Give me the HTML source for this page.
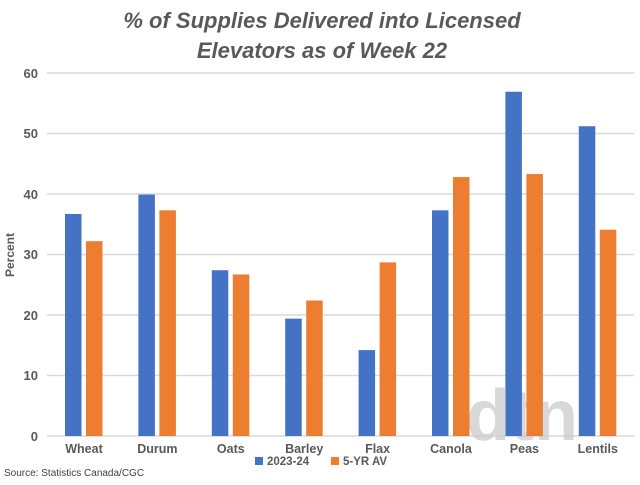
<!DOCTYPE html><html><head><style>body{margin:0;background:#fff}</style></head><body>
<svg width="640" height="480" xmlns="http://www.w3.org/2000/svg" font-family="Liberation Sans, sans-serif">
<rect width="640" height="480" fill="#fff"/>
<text x="322" y="28" text-anchor="middle" font-size="22" font-weight="bold" font-style="italic" fill="#595959">% of Supplies Delivered into Licensed</text>
<text x="322" y="58" text-anchor="middle" font-size="22" font-weight="bold" font-style="italic" fill="#595959">Elevators as of Week 22</text>
<g stroke="#d9d9d9" stroke-width="1.5">
<line x1="47" x2="634" y1="73" y2="73"/><line x1="47" x2="634" y1="133.5" y2="133.5"/><line x1="47" x2="634" y1="194" y2="194"/><line x1="47" x2="634" y1="254.5" y2="254.5"/><line x1="47" x2="634" y1="315" y2="315"/><line x1="47" x2="634" y1="375.5" y2="375.5"/><line x1="47" x2="634" y1="436" y2="436"/>
</g>
<g font-size="13" font-weight="bold" fill="#595959" text-anchor="end">
<text x="38" y="78">60</text><text x="38" y="138">50</text><text x="38" y="199">40</text><text x="38" y="259">30</text><text x="38" y="320">20</text><text x="38" y="380">10</text><text x="38" y="441">0</text>
</g>
<text transform="translate(14,255) rotate(-90)" text-anchor="middle" font-size="12" font-weight="bold" fill="#595959">Percent</text>
<text x="522" y="440" text-anchor="middle" font-size="72" font-weight="bold" fill="#c8c8c8" opacity="0.7">dtn</text>
<g id="bars"></g>
<g font-size="12.5" font-weight="bold" fill="#595959" text-anchor="middle" id="labs"></g>
<rect x="255" y="457" width="8" height="8" fill="#4472c4"/><text x="267" y="465" font-size="11.5" font-weight="bold" fill="#595959">2023-24</text>
<rect x="331" y="457" width="8" height="8" fill="#ed7d31"/><text x="343" y="465" font-size="11.5" font-weight="bold" fill="#595959">5-YR AV</text>
<text x="4" y="476" font-size="10" fill="#404040">Source: Statistics Canada/CGC</text>
</svg>
<script>
var d=[["Wheat",36.7,32.2],["Durum",39.9,37.3],["Oats",27.4,26.7],["Barley",19.4,22.4],["Flax",14.2,28.7],["Canola",37.3,42.8],["Peas",56.9,43.3],["Lentils",51.2,34.1]];
var b="",l="";d.forEach(function(r,i){var c=84+i*73.4;var h1=r[1]*6.05,h2=r[2]*6.05;
b+='<rect x="'+(c-19)+'" y="'+(436-h1)+'" width="16.5" height="'+h1+'" fill="#4472c4"/>';
b+='<rect x="'+(c+2)+'" y="'+(436-h2)+'" width="16.5" height="'+h2+'" fill="#ed7d31"/>';
l+='<text x="'+c+'" y="453">'+r[0]+'</text>';});
document.getElementById("bars").innerHTML=b;document.getElementById("labs").innerHTML=l;
</script>
</body></html>
